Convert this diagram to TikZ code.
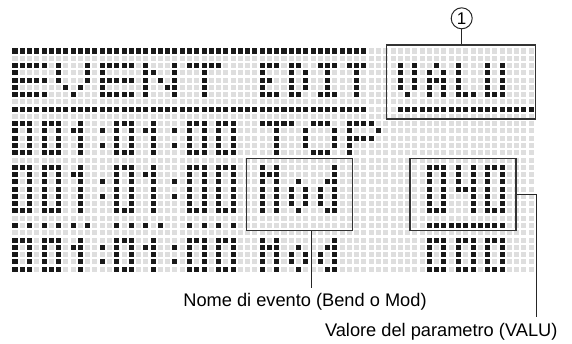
\documentclass[tikz,border=0pt]{standalone}
\usepackage{fontspec}
\setmainfont{Liberation Sans}
\usetikzlibrary{positioning}

% one lit dot of the matrix, and a list of them
\newcommand\onat[2]{\fill[dotOn] (#1-.345,#2-.345) rectangle ++(.69,.69);}
\newcommand\lcdon[1]{\foreach \i/\j in {#1}{\onat{\i}{\j}}}

\tikzset{
  dotOn/.style={fill=black!90},
  dotOff/.style={fill=black!13},
  % 5x5 letters
  bigE/.pic={\lcdon{0/0,1/0,2/0,3/0,4/0,0/1,0/2,1/2,2/2,3/2,4/2,0/3,0/4,1/4,2/4,3/4,4/4}},
  bigV/.pic={\lcdon{0/0,4/0,0/1,4/1,0/2,4/2,1/3,3/3,2/4}},
  bigN/.pic={\lcdon{0/0,0/1,0/2,0/3,0/4,4/0,4/1,4/2,4/3,4/4,1/1,2/2,3/3}},
  bigT/.pic={\lcdon{0/0,1/0,2/0,3/0,4/0,2/1,2/2,2/3,2/4}},
  bigO/.pic={\lcdon{1/0,2/0,3/0,0/1,4/1,0/2,4/2,0/3,4/3,1/4,2/4,3/4}},
  bigP/.pic={\lcdon{0/0,1/0,2/0,3/0,0/1,4/1,0/2,1/2,2/2,3/2,0/3,0/4}},
  % 3x5 letters
  thinE/.pic={\lcdon{0/0,1/0,2/0,0/1,0/2,1/2,0/3,0/4,1/4,2/4}},
  thinD/.pic={\lcdon{0/0,1/0,0/1,2/1,0/2,2/2,0/3,2/3,0/4,1/4}},
  thinI/.pic={\lcdon{0/0,1/0,2/0,1/1,1/2,1/3,0/4,1/4,2/4}},
  thinT/.pic={\lcdon{0/0,1/0,2/0,1/1,1/2,1/3,1/4}},
  thinV/.pic={\lcdon{0/0,2/0,0/1,2/1,0/2,2/2,0/3,2/3,1/4}},
  thinA/.pic={\lcdon{1/0,0/1,2/1,0/2,1/2,2/2,0/3,2/3,0/4,2/4}},
  thinL/.pic={\lcdon{0/0,0/1,0/2,0/3,0/4,1/4,2/4}},
  thinU/.pic={\lcdon{0/0,2/0,0/1,2/1,0/2,2/2,0/3,2/3,0/4,1/4,2/4}},
  % short digits and letters (5 rows)
  zeroS/.pic={\lcdon{0/0,1/0,2/0,0/1,2/1,0/2,2/2,0/3,2/3,0/4,1/4,2/4}},
  oneS/.pic={\lcdon{1/0,0/1,1/1,1/2,1/3,1/4}},
  emS/.pic={\lcdon{0/0,2/0,0/1,1/1,2/1,0/2,2/2,0/3,2/3,0/4,2/4}},
  ohS/.pic={\lcdon{1/1,0/2,2/2,0/3,2/3,1/4}},
  deeS/.pic={\lcdon{2/0,2/1,2/2,2/3,2/4,1/1,0/2,0/3,1/4}},
  % tall digits and letters (7 rows)
  zeroL/.pic={\lcdon{0/0,1/0,2/0,0/1,2/1,0/2,2/2,0/3,2/3,0/4,2/4,0/5,2/5,0/6,1/6,2/6}},
  oneL/.pic={\lcdon{1/0,0/1,1/1,1/2,1/3,1/4,1/5,1/6}},
  fourL/.pic={\lcdon{0/0,2/0,0/1,2/1,0/2,2/2,0/3,1/3,2/3,2/4,2/5,2/6}},
  emL/.pic={\lcdon{0/0,2/0,0/1,1/1,2/1,0/2,2/2,0/3,2/3,0/4,2/4,0/5,2/5,0/6,2/6}},
  ohL/.pic={\lcdon{1/2,0/3,2/3,0/4,2/4,0/5,2/5,1/6}},
  deeL/.pic={\lcdon{2/0,2/1,2/2,2/3,2/4,2/5,2/6,1/2,0/3,0/4,0/5,1/6}},
  % 001:01:00
  timeS/.pic={
    \pic at (0,0) {zeroS}; \pic at (4,0) {zeroS}; \pic at (8,0) {oneS};
    \lcdon{12/1,12/3,22/1,22/3}
    \pic at (14,0) {zeroS}; \pic at (18,0) {oneS};
    \pic at (24,0) {zeroS}; \pic at (28,0) {zeroS};},
  timeL/.pic={
    \pic at (0,0) {zeroL}; \pic at (4,0) {zeroL}; \pic at (8,0) {oneL};
    \lcdon{12/2,12/4,22/2,22/4}
    \pic at (14,0) {zeroL}; \pic at (18,0) {oneL};
    \pic at (24,0) {zeroL}; \pic at (28,0) {zeroL};}
}

\begin{document}
\begin{tikzpicture}[x=1bp, y=-1bp,
    every node/.style={font=\fontsize{18.3}{20}\selectfont},
    markbox/.style={draw=black!80, line width=1.2bp, inner sep=0pt},
    callout/.style={draw=black!85, line width=1bp},
    circnum/.style={circle, draw=black!85, line width=1bp, minimum size=21bp,
      inner sep=0pt, font=\fontsize{17}{17}\selectfont}
  ]
  \useasboundingbox (0,0) rectangle (572,343);

  \begin{scope}[shift={(15bp,-51bp)}, x=7.27bp, y=-7.27bp]
    % unlit dots
    \foreach \c in {0,...,71}
      \foreach \r in {0,...,30}
        \fill[dotOff] (\c-.345,\r-.345) rectangle ++(.69,.69);

    % heading: EVENT EDIT / VALU
    \foreach \c in {0,...,48} {\onat{\c}{0} \onat{\c}{8}}
    \foreach \c in {53,...,71} {\onat{\c}{8}}
    \pic at (0,2) {bigE};  \pic at (6,2) {bigV};  \pic at (12,2) {bigE};
    \pic at (18,2) {bigN}; \pic at (24,2) {bigT};
    \pic at (34,2) {thinE}; \pic at (38,2) {thinD};
    \pic at (42,2) {thinI}; \pic at (46,2) {thinT};
    \pic at (53,2) {thinV}; \pic at (57,2) {thinA};
    \pic at (61,2) {thinL}; \pic at (65,2) {thinU};

    % 001:01:00 TOP
    \pic at (0,10) {timeS};
    \pic at (34,10) {bigT}; \pic at (40,10) {bigO}; \pic at (46,10) {bigP};

    % 001:01:00 Mod 040
    \pic at (0,16) {timeL};
    \pic at (34,16) {emL}; \pic at (38,16) {ohL}; \pic at (42,16) {deeL};
    \pic at (57,16) {zeroL}; \pic at (61,16) {fourL}; \pic at (65,16) {zeroL};
    \foreach \c in {0,2,4,6,8,10,14,16,18,20,24,26,28,30} {\onat{\c}{24}}
    \foreach \c in {57,...,67} {\onat{\c}{24}}

    % 001:01:00 Mod 000
    \pic at (0,26) {timeS};
    \pic at (34,26) {emS}; \pic at (38,26) {ohS}; \pic at (42,26) {deeS};
    \pic at (57,26) {zeroS}; \pic at (61,26) {zeroS}; \pic at (65,26) {zeroS};
  \end{scope}

  % frames and callouts
  \node[markbox, minimum width=148.6bp, minimum height=74bp] (valubox) at (461,82) {};
  \node[markbox, minimum width=105.6bp, minimum height=72.4bp] (modbox) at (299.5,194.5) {};
  \node[markbox, minimum width=106bp, minimum height=72.4bp] (valbox) at (463,194.5) {};
  \node[circnum] (numone) at (461.7,18.3) {1};

  \node[anchor=base] (evname) at (305,306.5) {Nome di evento (Bend o Mod)};
  \node[anchor=base] (parval) at (441.2,336) {Valore del parametro (VALU)};

  \coordinate (modtap) at (311,288.3);
  \coordinate (valtap) at (536.7,317);
  \draw[callout] (numone.south) -- (numone.south |- valubox.north);
  \draw[callout] (modtap |- modbox.south) -- (modtap);
  \draw[callout] (valbox.east) -| (valtap);
\end{tikzpicture}
\end{document}
